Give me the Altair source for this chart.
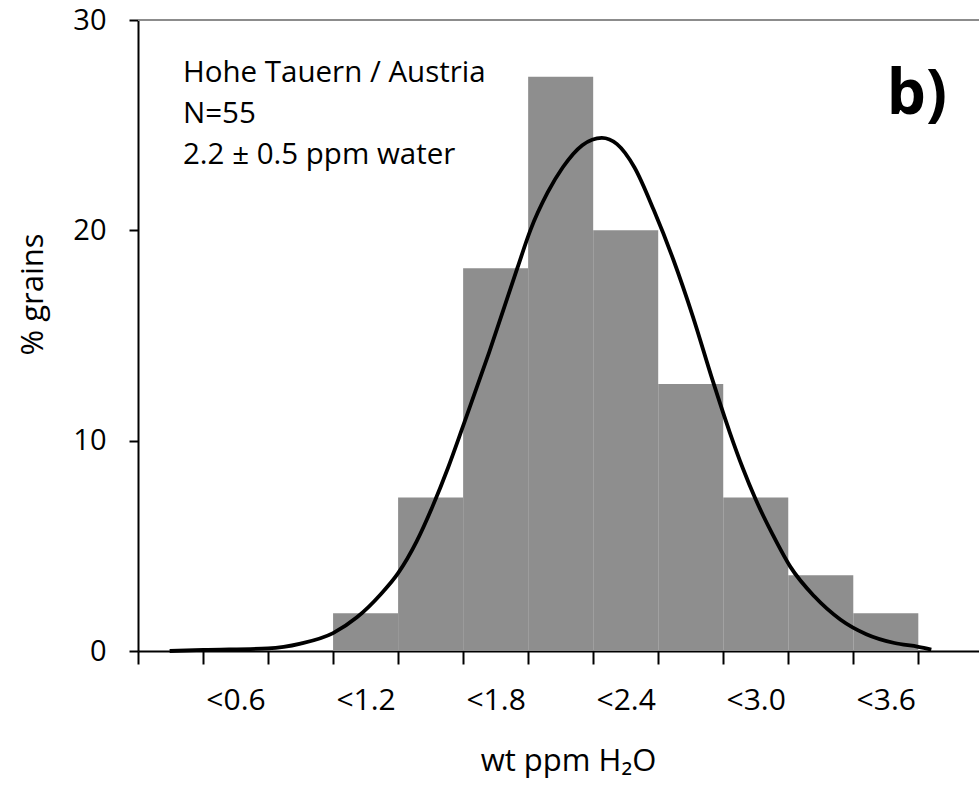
import altair as alt
import pandas as pd

# ---- data ----
bin_start = [0.9, 1.2, 1.5, 1.8, 2.1, 2.4, 2.7, 3.0, 3.3]
bin_end = [1.2, 1.5, 1.8, 2.1, 2.4, 2.7, 3.0, 3.3, 3.6]
percent_grains = [1.8, 7.3, 18.2, 27.3, 20.0, 12.7, 7.3, 3.6, 1.8]

curve_x = [0.146, 0.3, 0.6, 0.75, 0.9, 1.01, 1.12, 1.2, 1.285, 1.36, 1.43, 1.5,
           1.62, 1.75, 1.81, 1.89, 1.96, 2.05, 2.14, 2.21, 2.29, 2.38, 2.47,
           2.56, 2.65, 2.73, 2.79, 2.85, 2.93, 3.01, 3.12, 3.24, 3.36, 3.49,
           3.6, 3.66]
curve_y = [0.0, 0.05, 0.12, 0.35, 0.85, 1.6, 2.7, 3.7, 5.2, 6.9, 8.7, 10.7,
           14.2, 18.2, 20.0, 21.8, 23.0, 24.05, 24.4, 24.1, 23.0, 20.95, 18.6,
           15.9, 12.9, 10.4, 8.7, 7.2, 5.5, 4.0, 2.6, 1.5, 0.8, 0.38,
           0.2, 0.07]

tick_positions = [0.0, 0.3, 0.6, 0.9, 1.2, 1.5, 1.8, 2.1, 2.4, 2.7, 3.0, 3.3, 3.6]
tick_labels = ["", "<0.6", "", "<1.2", "", "<1.8", "", "<2.4", "", "<3.0", "", "<3.6", ""]
y_ticks = [0, 10, 20, 30]

annotation_lines = ["Hohe Tauern / Austria", "N=55", "2.2 \u00b1 0.5 ppm water"]
panel_label = "b)"
x_title = "wt ppm H\u2082O"
y_title = "% grains"

FONT = "Open Sans"

bars_df = pd.DataFrame({"start": bin_start, "end": bin_end, "pct": percent_grains})
curve_df = pd.DataFrame({"x": curve_x, "y": curve_y})

label_map = "{" + ", ".join(f"'{v:g}': '{l}'" for v, l in zip(tick_positions, tick_labels)) + "}"
label_expr = f"{label_map}[datum.value]"

x_scale = alt.Scale(domain=[0, 3.88], nice=False, zero=False)
y_scale = alt.Scale(domain=[0, 30], nice=False)

x_axis = alt.Axis(values=tick_positions, labelExpr=label_expr, labelOffset=32.5,
                  tickSize=13, labelPadding=21, labelFontSize=30, title=x_title,
                  titleFontSize=31, titleX=430, titleY=119, titleAlign="center",
                  titleBaseline="alphabetic", labelFlush=False, labelOverlap=False)
y_axis = alt.Axis(values=y_ticks, tickSize=9, labelPadding=23, labelFontSize=29,
                  title=y_title, titleFontSize=31,
                  titleX=-105, titleY=274, titleAngle=270, titleAlign="center",
                  titleBaseline="middle")

bars = alt.Chart(bars_df).mark_rect(color="#8e8e8e").encode(
    x=alt.X("start:Q", scale=x_scale, axis=x_axis),
    x2="end:Q",
    y=alt.Y("pct:Q", scale=y_scale, axis=y_axis),
    y2=alt.datum(0),
)

curve = alt.Chart(curve_df).mark_line(color="black", strokeWidth=3.8,
                                      interpolate="monotone").encode(
    x=alt.X("x:Q", scale=x_scale),
    y=alt.Y("y:Q", scale=y_scale),
)

top_border = alt.Chart(alt.Data(values=[{}])).mark_rule(
    color="#8c8c8c", strokeWidth=2).encode(y=alt.datum(30))

one = alt.Data(values=[{}])
texts = []
for i, line in enumerate(annotation_lines):
    texts.append(alt.Chart(one).mark_text(
        font=FONT, fontSize=29.5, color="black", align="left",
        baseline="alphabetic", x=45, y=62 + 41 * i
    ).encode(text=alt.value(line)))

panel = alt.Chart(one).mark_text(
    font=FONT, fontSize=62, fontWeight="bold", color="black", align="right",
    baseline="alphabetic", x=809, y=94
).encode(text=alt.value(panel_label))

chart = alt.layer(bars, curve, top_border, *texts, panel).properties(
    width=841, height=631,
    autosize=alt.AutoSizeParams(type="none"),
    padding={"left": 138, "top": 20, "right": 0, "bottom": 143},
    background="white",
).configure_view(stroke=None).configure_axis(
    grid=False, domainColor="black", domainWidth=2, tickColor="black",
    tickWidth=2, labelFont=FONT, labelFontSize=28, labelColor="black",
    titleFont=FONT, titleFontSize=28, titleFontWeight="normal", titleColor="black",
)

chart.save("out.html", embed_options={"renderer": "svg", "actions": False})
